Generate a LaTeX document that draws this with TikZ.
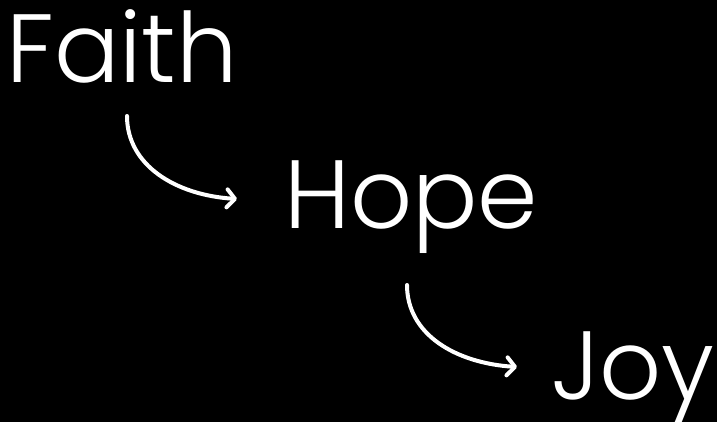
\documentclass[tikz,border=0pt]{standalone}
\usepackage{fontspec}
\setmainfont{Poppins Light}
\usetikzlibrary{arrows.meta}
\begin{document}
\begin{tikzpicture}[x=1pt,y=-1pt,
  word/.style={text=white,inner sep=0pt,anchor=base west,font=\fontsize{97}{97}\selectfont},
  flow/.style={white,line width=4pt,line cap=round,-{Straight Barb[length=8pt,width=18pt,line width=4pt,round]}}]
\fill[black] (0,0) rectangle (717,422);
\useasboundingbox (0,0) rectangle (717,422);
\node[word] (faith) at (6,83) {Faith};
\node[word] (hope) at (284,228) {Hope};
\node[word] (joy) at (551,399) {Joy};
\coordinate (a1s) at (127,116);
\coordinate (a1e) at (237,199);
\coordinate (a2s) at (407,285);
\coordinate (a2e) at (517,367);
\draw[flow] (a1s) .. controls (127,165) and (175,195) .. (a1e);
\draw[flow] (a2s) .. controls (407,334) and (455,363) .. (a2e);
\end{tikzpicture}
\end{document}
